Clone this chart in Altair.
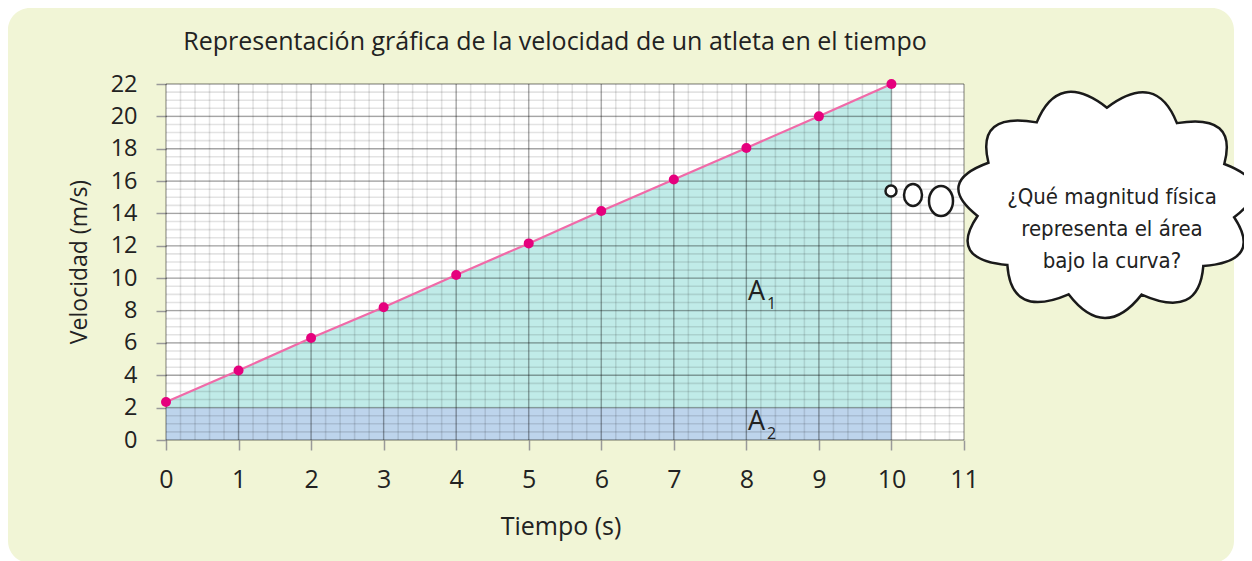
import math
import altair as alt
import pandas as pd

# ---------------- data ----------------
tiempo = [0, 1, 2, 3, 4, 5, 6, 7, 8, 9, 10]
velocidad = [2.35, 4.3, 6.3, 8.2, 10.2, 12.15, 14.15, 16.1, 18.05, 20.0, 22.0]
base_a1 = 2
a2_t = [0, 10]
a2_v = [0, 2]
x_ticks = list(range(0, 12))
y_ticks = list(range(0, 23, 2))
x_minor = [round(i * 0.2, 1) for i in range(0, 56)]
y_minor = [i * 0.5 for i in range(0, 45)]
area_names = ["1", "2"]
area_label_t = [8.14, 8.14]
area_label_v = [8.65, 0.6]
titulo = "Representación gráfica de la velocidad de un atleta en el tiempo"
titulo_x = "Tiempo (s)"
titulo_y = "Velocidad (m/s)"
nube_texto = ["¿Qué magnitud física", "representa el área", "bajo la curva?"]

# ---------------- layout ----------------
W, H = 798, 356
PAD = {"left": 158, "top": 76, "right": 280, "bottom": 121}
BG = "#f1f5d6"
FONT = "Open Sans"
TXT = "#222222"

xs = alt.Scale(domain=[0, 11], nice=False, zero=False)
ys = alt.Scale(domain=[0, 22], nice=False, zero=False)

x_axis = alt.Axis(values=x_ticks, title=None, grid=False, domain=False, tickSize=10,
                  tickColor="#999999", tickWidth=1.5, labelFontSize=25, labelFont=FONT,
                  labelColor=TXT, labelPadding=17, labelFlush=False)
y_axis = alt.Axis(values=y_ticks, title=None, grid=False, domain=False, tickSize=10,
                  tickColor="#999999", tickWidth=1.5, labelFontSize=23.5, labelFont=FONT,
                  labelColor=TXT, labelPadding=19, labelFlush=False)


def X(f):
    return alt.X(f, scale=xs, axis=x_axis)


def Y(f):
    return alt.Y(f, scale=ys, axis=y_axis)


df = pd.DataFrame({"t": tiempo, "v": velocidad})
one = pd.DataFrame({"k": [0]})


def cloud_path(n=11, a=0.87, b=0.64, A=1.0, B=0.772, phase=0.15):
    pts = []
    for i in range(n + 1):
        t = phase + 2 * math.pi * i / n
        pts.append((a * math.cos(t), b * math.sin(t)))
    s = "M {:.3f} {:.3f}".format(*pts[0])
    for i in range(n):
        t0 = phase + 2 * math.pi * i / n
        tm = t0 + math.pi / n
        tx, ty = A * math.cos(tm), B * math.sin(tm)
        p0, p1 = pts[i], pts[i + 1]
        cx = 2 * tx - (p0[0] + p1[0]) / 2
        cy = 2 * ty - (p0[1] + p1[1]) / 2
        s += " Q {:.3f} {:.3f} {:.3f} {:.3f}".format(cx, cy, p1[0], p1[1])
    return s + " Z"


def ellipse_path(r):
    k = 0.5523
    return ("M 1 0 C 1 {a:.3f} {k} {r:.3f} 0 {r:.3f} C {nk} {r:.3f} -1 {a:.3f} -1 0 "
            "C -1 {na:.3f} {nk} {nr:.3f} 0 {nr:.3f} C {k} {nr:.3f} 1 {na:.3f} 1 0 Z").format(
        a=k * r, k=k, r=r, nk=-k, na=-k * r, nr=-r)


CORNERS = {
    "tl": "M 0 0 L 1 0 C 0.448 0 0 0.448 0 1 Z",
    "tr": "M 0 0 L 0 1 C 0 0.448 -0.448 0 -1 0 Z",
    "bl": "M 0 0 L 0 -1 C 0 -0.448 0.448 0 1 0 Z",
    "br": "M 0 0 L -1 0 C -0.448 0 0 -0.448 0 -1 Z",
}
RIGHT_EDGE = 1068   # plot coords of the panel's right edge
BOTTOM_EDGE = 479


def corner(key, x, y):
    return alt.Chart(one).mark_point(shape=CORNERS[key], filled=True, color="white",
                                     opacity=1, strokeWidth=0, size=44 ** 2).encode(
        x=alt.value(x), y=alt.value(y))


strip = alt.Chart(one).mark_rect(color="white").encode(
    x=alt.value(RIGHT_EDGE), x2=alt.value(RIGHT_EDGE + 20), y=alt.value(-80), y2=alt.value(490))
masks = [corner("tl", -158, -76), corner("tr", RIGHT_EDGE, -76),
         corner("bl", -158, BOTTOM_EDGE), corner("br", RIGHT_EDGE, BOTTOM_EDGE)]

a2 = alt.Chart(pd.DataFrame({"t0": [a2_t[0]], "t1": [a2_t[1]], "v0": [a2_v[0]], "v1": [a2_v[1]]})).mark_rect(
    color="#bdd4ec").encode(x=X("t0:Q"), x2="t1:Q", y=Y("v0:Q"), y2="v1:Q")

a1 = alt.Chart(df).mark_area(color="#c0ebe8", opacity=1).encode(
    x=X("t:Q"), y=Y("v:Q"), y2=alt.datum(base_a1))

grid_minor_x = alt.Chart(pd.DataFrame({"t": x_minor})).mark_rule(
    color="black", opacity=0.11, strokeWidth=1.6).encode(x=X("t:Q"))
grid_minor_y = alt.Chart(pd.DataFrame({"v": y_minor})).mark_rule(
    color="black", opacity=0.11, strokeWidth=1.6).encode(y=Y("v:Q"))
grid_major_x = alt.Chart(pd.DataFrame({"t": x_ticks})).mark_rule(
    color="black", opacity=0.27, strokeWidth=1.3).encode(x=X("t:Q"))
grid_major_y = alt.Chart(pd.DataFrame({"v": y_ticks})).mark_rule(
    color="black", opacity=0.27, strokeWidth=1.3).encode(y=Y("v:Q"))

line = alt.Chart(df).mark_line(color="#f06aa8", strokeWidth=2.2).encode(x=X("t:Q"), y=Y("v:Q"))
pts = alt.Chart(df).mark_point(filled=True, color="#e5007d", opacity=1, size=100).encode(
    x=X("t:Q"), y=Y("v:Q"))

lab_df = pd.DataFrame({"t": area_label_t, "v": area_label_v, "n": area_names})
lab_a = alt.Chart(lab_df).mark_text(text="A", font=FONT, fontSize=27, color=TXT,
                                    align="center", baseline="alphabetic").encode(
    x=X("t:Q"), y=Y("v:Q"))
lab_sub = alt.Chart(lab_df).mark_text(font=FONT, fontSize=16, color=TXT, dx=15, dy=9,
                                      align="center", baseline="alphabetic").encode(
    x=X("t:Q"), y=Y("v:Q"), text="n:N")

title_m = alt.Chart(one).mark_text(text=titulo, font=FONT, fontSize=25, color=TXT,
                                   align="center", baseline="middle").encode(
    x=alt.value(389), y=alt.value(-42))
xt = alt.Chart(one).mark_text(text=titulo_x, font=FONT, fontSize=25, color=TXT,
                              align="center", baseline="middle").encode(
    x=alt.value(395), y=alt.value(443))
yt = alt.Chart(one).mark_text(text=titulo_y, font=FONT, fontSize=23, color=TXT, angle=270,
                              align="center", baseline="middle").encode(
    x=alt.value(-86), y=alt.value(178))

cloud = alt.Chart(one).mark_point(shape=cloud_path(), filled=True, fill="white", stroke="#1a1a1a",
                                  strokeWidth=2.5, opacity=1, size=298 ** 2).encode(
    x=alt.value(940), y=alt.value(119))
bub1 = alt.Chart(one).mark_point(shape="circle", filled=True, fill="white", stroke="#1a1a1a",
                                 strokeWidth=2.5, opacity=1, size=11 ** 2).encode(
    x=alt.value(725), y=alt.value(107))
bub2 = alt.Chart(one).mark_point(shape=ellipse_path(11 / 9), filled=True, fill="white", stroke="#1a1a1a",
                                 strokeWidth=2.5, opacity=1, size=18 ** 2).encode(
    x=alt.value(747), y=alt.value(111))
bub3 = alt.Chart(one).mark_point(shape=ellipse_path(15 / 12), filled=True, fill="white", stroke="#1a1a1a",
                                 strokeWidth=2.5, opacity=1, size=24 ** 2).encode(
    x=alt.value(775), y=alt.value(117))
cloud_txt = alt.Chart(one).mark_text(text=nube_texto, font="Liberation Sans Narrow, DejaVu Sans Condensed, Roboto",
                                     fontSize=22, color=TXT, lineHeight=32,
                                     align="center", baseline="middle").encode(
    x=alt.value(946), y=alt.value(113))

chart = alt.layer(
    strip, *masks, a2, a1,
    grid_minor_x, grid_minor_y, grid_major_x, grid_major_y,
    line, pts, lab_a, lab_sub, title_m, xt, yt,
    bub1, bub2, bub3, cloud, cloud_txt,
).properties(
    width=W, height=H,
    autosize=alt.AutoSizeParams(type="none"),
    padding=PAD,
    background=BG,
).configure_view(stroke=None, fill="white")

chart.save("out.html", embed_options={"renderer": "svg", "actions": False})
